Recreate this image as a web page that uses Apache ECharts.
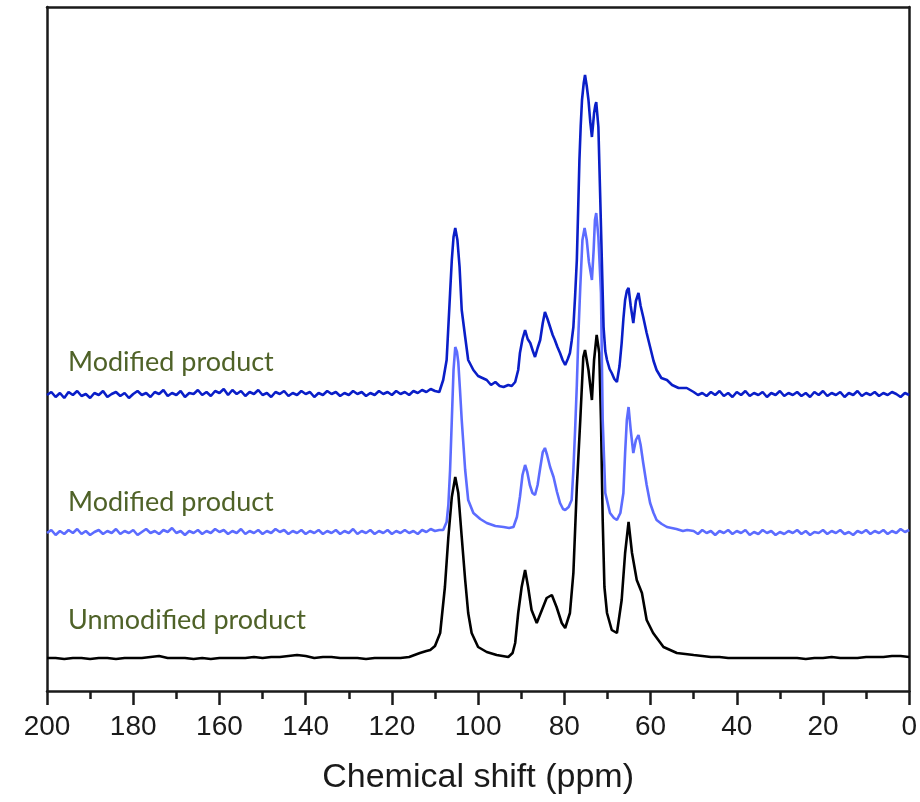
<!DOCTYPE html>
<html>
<head>
<meta charset="utf-8">
<script src="https://cdn.jsdelivr.net/npm/echarts@6/dist/echarts.min.js"></script>
<style>
  html, body { margin: 0; padding: 0; background: #fff; }
  #chart { width: 920px; height: 802px; }
</style>
</head>
<body>
<div id="chart"></div>
<script>
// 13C CP/MAS spectra, [ppm, intensity] (intensity in px above the bottom axis)
const xTicks = [200, 180, 160, 140, 120, 100, 80, 60, 40, 20, 0]
const labels = ['Modified product', 'Modified product', 'Unmodified product']

// top trace (dark blue)
const darkLeft = [[200,296],[199,299],[198,294],[197,298],[196,293],[195,299],[194,296],[193,300],[192,295],[191,297],[190,293],[189,298],[188,296],[187,300],[186,294],[185,297],[184,299],[183,295],[182,298],[181,293],[180,297],[179,300],[178,296],[177,298],[176,294],[175,299],[174,297],[173,301],[172,295],[171,298],[170,296],[169,300],[168,294],[167,298],[166,297],[165,301],[164,296],[163,299],[162,295],[161,300],[160,298],[159,302],[158,296],[157,301],[156,297],[155,300],[154,295],[153,299],[152,297],[151,301],[150,296],[149,298],[148,294],[147,299],[146,297],[145,300],[144,295],[143,298],[142,296],[141,300],[140,297],[139,299],[138,294],[137,298],[136,296],[135,300],[134,297],[133,299],[132,295],[131,298],[130,296],[129,300],[128,297],[127,299],[126,295],[125,298],[124,296],[123,300],[122,297],[121,299],[120,296],[119,300],[118,297],[117,299],[116,296],[115,300],[114,298],[113,301],[112,299],[111,302],[110,300]]
const darkPeaks = [[109,299],[108.8,301],[108.1,311],[107.3,331],[106.5,398],[106.1,431],[105.7,454],[105.3,463],[104.8,451],[104.3,424],[103.8,381],[103.0,354],[102.3,331],[101.1,321],[100,315],[99,313],[98,311],[97,306],[96,309],[95,305],[94.1,304],[93,306],[92.2,305],[91.4,309],[90.7,321],[90.3,338],[89.7,352],[89.1,361],[88.5,352],[87.9,348],[87.3,340],[86.8,334],[86.2,343],[85.6,351],[85,368],[84.5,379],[83.9,372],[83.3,364],[82.7,356],[82.2,351],[81.6,344],[81.0,338],[80.4,331],[79.8,326],[79.2,332],[78.7,338],[78.3,350],[77.9,364],[77.5,395],[77.1,431],[76.8,480],[76.5,531],[76.2,565],[75.9,591],[75.5,608],[75.2,616],[74.8,605],[74.4,591],[74.0,570],[73.6,554],[73.3,568],[73.1,578],[72.8,586],[72.6,589],[72.1,564],[71.7,498],[71.3,431],[70.9,364],[70.5,340],[70.1,331],[69.5,322],[69.0,318],[68.4,312],[67.8,309],[67.2,325],[66.7,348],[66.3,372],[65.9,391],[65.5,400],[65.1,403],[64.6,385],[64.0,368],[63.4,390],[62.8,398],[62.3,385],[61.7,374],[60.9,358],[60.1,344],[59.3,330],[58.6,321],[57.5,313],[56.2,311],[55,306],[53.5,303],[51.6,303],[50,299],[49,296]]
const darkRight = [[48,298],[47,295],[46,299],[45,296],[44,300],[43,295],[42,298],[41,294],[40,299],[39,296],[38,300],[37,295],[36,298],[35,296],[34,299],[33,294],[32,298],[31,296],[30,300],[29,295],[28,298],[27,296],[26,299],[25,295],[24,298],[23,294],[22,299],[21,296],[20,300],[19,295],[18,298],[17,296],[16,299],[15,294],[14,298],[13,296],[12,300],[11,295],[10,298],[9,296],[8,299],[7,295],[6,298],[5,296],[4,299],[3,297],[2,294],[1,298],[0,296]]

// middle trace (light blue)
const lightLeft = [[200,158],[199,161],[198,156],[197,160],[196,157],[195,161],[194,158],[193,162],[192,157],[191,160],[190,156],[189,159],[188,161],[187,157],[186,160],[185,158],[184,162],[183,157],[182,160],[181,158],[180,161],[179,156],[178,159],[177,162],[176,158],[175,160],[174,157],[173,161],[172,159],[171,163],[170,158],[169,160],[168,156],[167,160],[166,158],[165,161],[164,157],[163,160],[162,158],[161,162],[160,159],[159,161],[158,157],[157,160],[156,158],[155,162],[154,157],[153,160],[152,158],[151,161],[150,157],[149,160],[148,158],[147,162],[146,159],[145,161],[144,157],[143,160],[142,158],[141,161],[140,157],[139,160],[138,158],[137,161],[136,157],[135,160],[134,158],[133,161],[132,157],[131,160],[130,158],[129,162],[128,157],[127,160],[126,158],[125,161],[124,157],[123,160],[122,158],[121,161],[120,157],[119,160],[118,158],[117,161],[116,158],[115,160],[114,157],[113,161],[112,159],[111,162],[110,160],[109,161]]
const lightPeaks = [[108.1,161],[107.3,169],[106.9,186],[106.5,221],[106.1,271],[105.7,321],[105.3,344],[104.9,339],[104.6,329],[104.2,301],[103.8,271],[103.0,221],[102.3,191],[101.1,178],[99.5,172],[98.0,168],[96,165],[94.1,164],[92.8,163],[91.8,164],[91.0,174],[90.3,194],[89.7,216],[89.1,226],[88.6,219],[88.0,206],[87.4,198],[86.8,196],[86.2,206],[85.6,223],[85.0,239],[84.5,243],[84.0,236],[83.3,224],[82.5,214],[81.7,199],[81.0,188],[80.3,182],[79.8,181],[79.0,184],[78.3,191],[77.9,221],[77.5,261],[77.1,306],[76.7,361],[76.3,404],[75.8,451],[75.3,463],[74.8,451],[74.3,429],[73.6,411],[73.2,441],[72.9,471],[72.6,478],[72.1,454],[71.5,398],[71.1,271],[70.5,198],[69.4,178],[68.5,173],[67.8,171],[67.0,178],[66.3,198],[65.9,238],[65.5,271],[65.1,284],[64.6,261],[64.0,238],[63.4,251],[62.8,256],[62.3,246],[61.7,228],[60.9,206],[60.1,188],[59.3,178],[58.6,171],[57.4,167],[56.2,164],[54,162],[52.5,160],[51.5,161]]
const lightRight = [[50,160],[49,157],[48,161],[47,158],[46,160],[45,156],[44,160],[43,158],[42,161],[41,157],[40,160],[39,158],[38,161],[37,156],[36,159],[35,157],[34,161],[33,158],[32,160],[31,156],[30,159],[29,157],[28,160],[27,158],[26,161],[25,157],[24,160],[23,156],[22,159],[21,158],[20,161],[19,157],[18,160],[17,158],[16,161],[15,157],[14,159],[13,156],[12,160],[11,158],[10,161],[9,157],[8,160],[7,158],[6,161],[5,157],[4,160],[3,158],[2,162],[1,159],[0,161]]

// bottom trace (black)
const blackLeft = [[200,33],[198,33],[196,32],[194,33],[192,33],[190,32],[188,33],[186,33],[184,32],[182,33],[180,33],[178,33],[176,34],[174,35],[172,33],[170,33],[168,33],[166,32],[164,33],[162,32],[160,33],[158,33],[156,33],[154,33],[152,34],[150,33],[148,34],[146,34],[144,35],[142,36],[140,35],[138,33],[136,34],[134,34],[132,33],[130,33],[128,33],[126,32],[124,33],[122,33],[120,33],[118,33],[116,34]]
const blackPeaks = [[113.5,38],[112,40],[111.1,41],[110,45],[108.8,58],[107.7,104],[106.9,154],[106.1,194],[105.3,214],[104.6,198],[103.8,154],[103.0,111],[102.3,78],[101.5,58],[100.0,44],[98,39],[95.7,36],[93.0,34],[92,38],[91.4,48],[90.7,78],[89.9,104],[89.1,121],[88.4,104],[87.6,81],[86.4,68],[85.2,81],[84.1,93],[82.9,96],[81.8,84],[80.6,68],[79.8,63],[78.7,78],[77.9,118],[77.1,204],[76.3,271],[75.6,334],[75.2,341],[74.4,321],[73.6,291],[73.1,331],[72.5,356],[71.9,338],[71.5,271],[71.1,171],[70.7,104],[70.1,78],[69.0,61],[67.8,58],[66.7,91],[65.9,138],[65.1,169],[64.3,138],[63.2,111],[62.0,98],[60.9,71],[59.4,58],[57.0,44],[53.9,38],[50.0,36]]
const blackRight = [[48,35],[46,34],[44,34],[42,33],[40,33],[38,33],[36,33],[34,33],[32,33],[30,33],[28,33],[26,33],[24,32],[22,33],[20,33],[18,34],[16,33],[14,33],[12,33],[10,34],[8,34],[6,34],[4,35],[2,35],[0,34]]

const chart = echarts.init(document.getElementById('chart'))

const frame = { show: true, onZero: false, lineStyle: { color: '#1a1a1a', width: 2.5 } }
const trace = (name, data, color) => ({
  name, type: 'line', data, showSymbol: false, animation: false,
  lineStyle: { color, width: 2.6 }, z: 3,
})
const tag = (text, y) => ({
  type: 'text', x: 68, y,
  style: { text, font: '27px Lato', fill: '#4f6228', verticalAlign: 'middle' },
})

chart.setOption({
  backgroundColor: '#fff',
  animation: false,
  grid: { left: 47, right: 10, top: 7, bottom: 111 },
  xAxis: [{
    type: 'value', min: 0, max: 200, interval: 20, inverse: true,
    name: 'Chemical shift (ppm)', nameLocation: 'middle', nameGap: 70,
    nameTextStyle: { fontFamily: 'Liberation Sans', fontSize: 34, color: '#1a1a1a' },
    axisLine: frame,
    axisTick: { show: true, length: 14, lineStyle: { color: '#1a1a1a', width: 2.5 } },
    minorTick: { show: true, splitNumber: 2, length: 8, lineStyle: { color: '#1a1a1a', width: 2.5 } },
    axisLabel: {
      fontFamily: 'Liberation Sans', fontSize: 28, color: '#1a1a1a', margin: 22,
      showMinLabel: true, showMaxLabel: true, hideOverlap: false,
      formatter: (v) => xTicks.includes(v) ? String(v) : '',
    },
    splitLine: { show: false },
  }, {
    type: 'value', position: 'top', min: 0, max: 200, inverse: true,
    axisLine: frame, axisTick: { show: false }, axisLabel: { show: false }, splitLine: { show: false },
  }],
  yAxis: [{
    type: 'value', position: 'left', min: 0, max: 684,
    axisLine: frame, axisTick: { show: false }, axisLabel: { show: false }, splitLine: { show: false },
  }, {
    type: 'value', position: 'right', min: 0, max: 684,
    axisLine: frame, axisTick: { show: false }, axisLabel: { show: false }, splitLine: { show: false },
  }],
  series: [
    trace(labels[2], [...blackLeft, ...blackPeaks, ...blackRight], '#000000'),
    trace(labels[1], [...lightLeft, ...lightPeaks, ...lightRight], '#5c6cff'),
    trace(labels[0], [...darkLeft, ...darkPeaks, ...darkRight], '#0a1ec8'),
  ],
  graphic: [tag(labels[0], 362), tag(labels[1], 502), tag(labels[2], 620)],
})
</script>
</body>
</html>
